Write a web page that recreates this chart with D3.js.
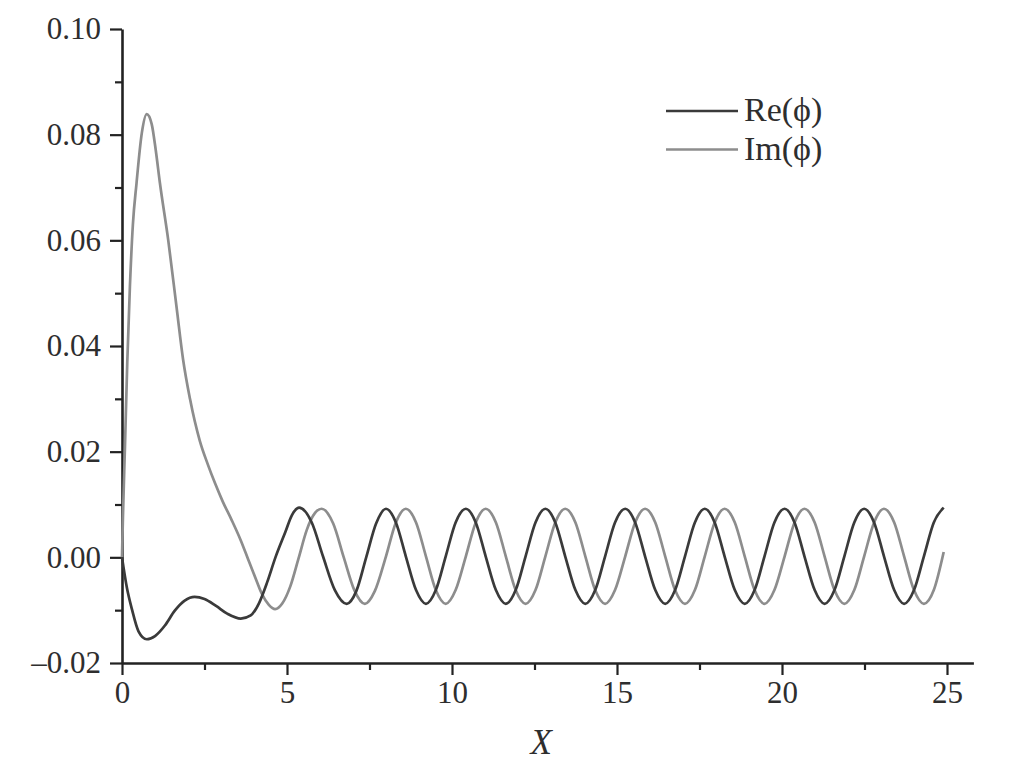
<!DOCTYPE html>
<html>
<head>
<meta charset="utf-8">
<script src="https://cdn.jsdelivr.net/npm/d3@7"></script>
<style>
  html, body { margin: 0; padding: 0; background: #fff; }
  svg { display: block; }
</style>
</head>
<body>
<script>
// ---- data --------------------------------------------------------------
const xTicks      = [0, 5, 10, 15, 20, 25];
const xMinorTicks = [2.5, 7.5, 12.5, 17.5, 22.5];
const yTicks      = [-0.02, 0.00, 0.02, 0.04, 0.06, 0.08, 0.10];
const yMinorTicks = [-0.01, 0.01, 0.03, 0.05, 0.07, 0.09];
const seriesNames = ["Re(\u03D5)", "Im(\u03D5)"];

// Re(phi): transient then steady oscillation
const reX = [
  0, 0.15, 0.3, 0.5, 0.75, 1.0, 1.3, 1.6, 1.9, 2.2, 2.5, 2.85, 3.2, 3.6, 3.9,
  4.15, 4.4, 4.65, 4.95, 5.15, 5.37, 5.75, 6.09, 6.45, 6.81, 7.1, 7.4, 7.7,
  8.00, 8.30, 8.60, 8.91, 9.21, 9.51, 9.81, 10.11,
  10.42, 10.72, 11.02, 11.33, 11.63, 11.93, 12.23, 12.53,
  12.83, 13.13, 13.43, 13.74, 14.04, 14.34, 14.64, 14.94,
  15.25, 15.55, 15.85, 16.16, 16.46, 16.76, 17.06, 17.36,
  17.66, 17.96, 18.26, 18.57, 18.87, 19.17, 19.47, 19.77,
  20.08, 20.38, 20.68, 20.99, 21.29, 21.59, 21.89, 22.19,
  22.49, 22.79, 23.09, 23.40, 23.70, 24.00, 24.30, 24.60,
  24.90
];
const reY = [
  0, -0.0058, -0.0098, -0.0140, -0.0155, -0.0149, -0.0129, -0.0101, -0.0082, -0.0075, -0.0079, -0.0092, -0.0107, -0.0116, -0.0110,
  -0.0087, -0.0047, 0.0000, 0.0048, 0.0080, 0.0094, 0.0066, 0.0002, -0.0062, -0.0088, -0.0064, 0.0000, 0.0064,
  0.0092, 0.0066, 0.0002, -0.0062, -0.0088, -0.0062, 0.0002, 0.0066,
  0.0092, 0.0066, 0.0002, -0.0062, -0.0088, -0.0062, 0.0002, 0.0066,
  0.0092, 0.0066, 0.0002, -0.0062, -0.0088, -0.0062, 0.0002, 0.0066,
  0.0092, 0.0066, 0.0002, -0.0062, -0.0088, -0.0062, 0.0002, 0.0066,
  0.0092, 0.0066, 0.0002, -0.0062, -0.0088, -0.0062, 0.0002, 0.0066,
  0.0092, 0.0066, 0.0002, -0.0062, -0.0088, -0.0062, 0.0002, 0.0066,
  0.0092, 0.0066, 0.0002, -0.0062, -0.0088, -0.0062, 0.0002, 0.0066,
  0.0094
];

// Im(phi): big spike near x=0.75, then oscillation a quarter period behind Re
const imX = [
  0, 0.03, 0.09, 0.16, 0.24, 0.33, 0.44, 0.6, 0.75, 0.9, 1.02, 1.15, 1.4, 1.66, 1.85,
  2.06, 2.36, 2.6, 2.82, 3.05, 3.32, 3.6, 3.83, 4.05, 4.23, 4.45, 4.64, 4.85, 5.1,
  5.35, 5.6, 5.85, 6.05, 6.40, 6.72, 7.04, 7.36, 7.66,
  8.00, 8.30, 8.60, 8.91, 9.21, 9.51, 9.81, 10.11,
  10.42, 10.72, 11.02, 11.33, 11.63, 11.93, 12.23, 12.53,
  12.83, 13.13, 13.43, 13.74, 14.04, 14.34, 14.64, 14.94,
  15.25, 15.55, 15.85, 16.16, 16.46, 16.76, 17.06, 17.36,
  17.66, 17.96, 18.26, 18.57, 18.87, 19.17, 19.47, 19.77,
  20.08, 20.38, 20.68, 20.99, 21.29, 21.59, 21.89, 22.19,
  22.49, 22.79, 23.09, 23.40, 23.70, 24.00, 24.30, 24.60,
  24.90
];
const imY = [
  0, 0.0080, 0.0210, 0.0370, 0.0513, 0.0630, 0.0708, 0.0803, 0.0839, 0.0820, 0.0772, 0.0708, 0.0601, 0.0470, 0.0375,
  0.0300, 0.0220, 0.0176, 0.0140, 0.0106, 0.0071, 0.0032, -0.0005, -0.0040, -0.0068, -0.0090, -0.0098, -0.0088, -0.0055,
  -0.0002, 0.0052, 0.0084, 0.0092, 0.0064, 0.0000, -0.0062, -0.0088, -0.0064,
  0.0002, 0.0066, 0.0092, 0.0066, 0.0002, -0.0062, -0.0088, -0.0062,
  0.0002, 0.0066, 0.0092, 0.0066, 0.0002, -0.0062, -0.0088, -0.0062,
  0.0002, 0.0066, 0.0092, 0.0066, 0.0002, -0.0062, -0.0088, -0.0062,
  0.0002, 0.0066, 0.0092, 0.0066, 0.0002, -0.0062, -0.0088, -0.0062,
  0.0002, 0.0066, 0.0092, 0.0066, 0.0002, -0.0062, -0.0088, -0.0062,
  0.0002, 0.0066, 0.0092, 0.0066, 0.0002, -0.0062, -0.0088, -0.0062,
  0.0002, 0.0066, 0.0092, 0.0066, 0.0002, -0.0062, -0.0088, -0.0062,
  0.0010
];

(() => {
  const WIDTH = 1010, HEIGHT = 771;
  const RE_COLOR = "#3a3a3a";
  const IM_COLOR = "#8d8d8d";
  const INK = "#222";
  const TEXT = "#2e2e2e";
  const FONT = "'Liberation Serif', 'Times New Roman', 'DejaVu Serif', serif";

  const svg = d3.select("body").append("svg")
    .attr("width", WIDTH)
    .attr("height", HEIGHT);

  svg.append("rect")
    .attr("width", WIDTH).attr("height", HEIGHT)
    .attr("fill", "#fff");

  // x axis runs a bit past 25, y axis stops at 0.10
  const x = d3.scaleLinear().domain([0, 25.8]).range([122, 973.4]);
  const y = d3.scaleLinear().domain([-0.02, 0.10]).range([663, 29]);

  // axes ------------------------------------------------------------------
  const xAxis = d3.axisBottom(x)
    .tickValues(xTicks)
    .tickSize(12)
    .tickSizeOuter(0)
    .tickPadding(6)
    .tickFormat(d3.format("d"));

  const yAxis = d3.axisLeft(y)
    .tickValues(yTicks)
    .tickSize(12)
    .tickSizeOuter(0)
    .tickPadding(9)
    .tickFormat(d => d3.format(".2f")(d).replace("-", "\u2013").replace("\u2212", "\u2013"));

  const gx = svg.append("g")
    .attr("transform", `translate(0,${y(-0.02)})`)
    .call(xAxis);

  svg.append("g")
    .attr("transform", `translate(0,${y(-0.02)})`)
    .call(d3.axisBottom(x).tickValues(xMinorTicks).tickSize(7).tickFormat(""))
    .call(g => g.select(".domain").remove());

  const gy = svg.append("g")
    .attr("transform", `translate(${x(0)},0)`)
    .call(yAxis);

  svg.append("g")
    .attr("transform", `translate(${x(0)},0)`)
    .call(d3.axisLeft(y).tickValues(yMinorTicks).tickSize(7).tickFormat(""))
    .call(g => g.select(".domain").remove());

  svg.selectAll(".domain")
    .attr("stroke", INK)
    .attr("stroke-width", 2.6);
  svg.selectAll(".tick line")
    .attr("stroke", INK)
    .attr("stroke-width", 2.2);

  gx.selectAll(".tick text")
    .attr("fill", TEXT)
    .attr("font-family", FONT)
    .attr("font-size", 31);
  gy.selectAll(".tick text")
    .attr("fill", TEXT)
    .attr("font-family", FONT)
    .attr("font-size", 31);

  // axis title
  svg.append("text")
    .attr("x", x(12.7))
    .attr("y", 754)
    .attr("text-anchor", "middle")
    .attr("font-family", FONT)
    .attr("font-style", "italic")
    .attr("font-size", 35)
    .attr("fill", TEXT)
    .text("X");

  // curves ----------------------------------------------------------------
  const line = d3.line()
    .x(d => x(d[0]))
    .y(d => y(d[1]))
    .curve(d3.curveMonotoneX);

  const series = [
    { name: seriesNames[0], color: RE_COLOR, pts: d3.zip(reX, reY) },
    { name: seriesNames[1], color: IM_COLOR, pts: d3.zip(imX, imY) }
  ];

  // draw Im first so Re sits on top where they cross
  svg.selectAll(".curve")
    .data(series.slice().reverse())
    .enter()
    .append("path")
    .attr("class", "curve")
    .attr("d", d => line(d.pts))
    .attr("fill", "none")
    .attr("stroke", d => d.color)
    .attr("stroke-width", 2.7)
    .attr("stroke-linejoin", "round");

  // legend ----------------------------------------------------------------
  const legend = svg.append("g")
    .attr("transform", "translate(666,111)");

  const item = legend.selectAll(".item")
    .data(series)
    .enter()
    .append("g")
    .attr("class", "item")
    .attr("transform", (d, i) => `translate(0,${i * 38.5})`);

  item.append("line")
    .attr("x1", 0).attr("x2", 72)
    .attr("y1", 0).attr("y2", 0)
    .attr("stroke", d => d.color)
    .attr("stroke-width", 2.7);

  item.append("text")
    .attr("x", 78)
    .attr("y", 10)
    .attr("font-family", FONT)
    .attr("font-size", 34)
    .attr("fill", TEXT)
    .text(d => d.name);
})();
</script>
</body>
</html>
